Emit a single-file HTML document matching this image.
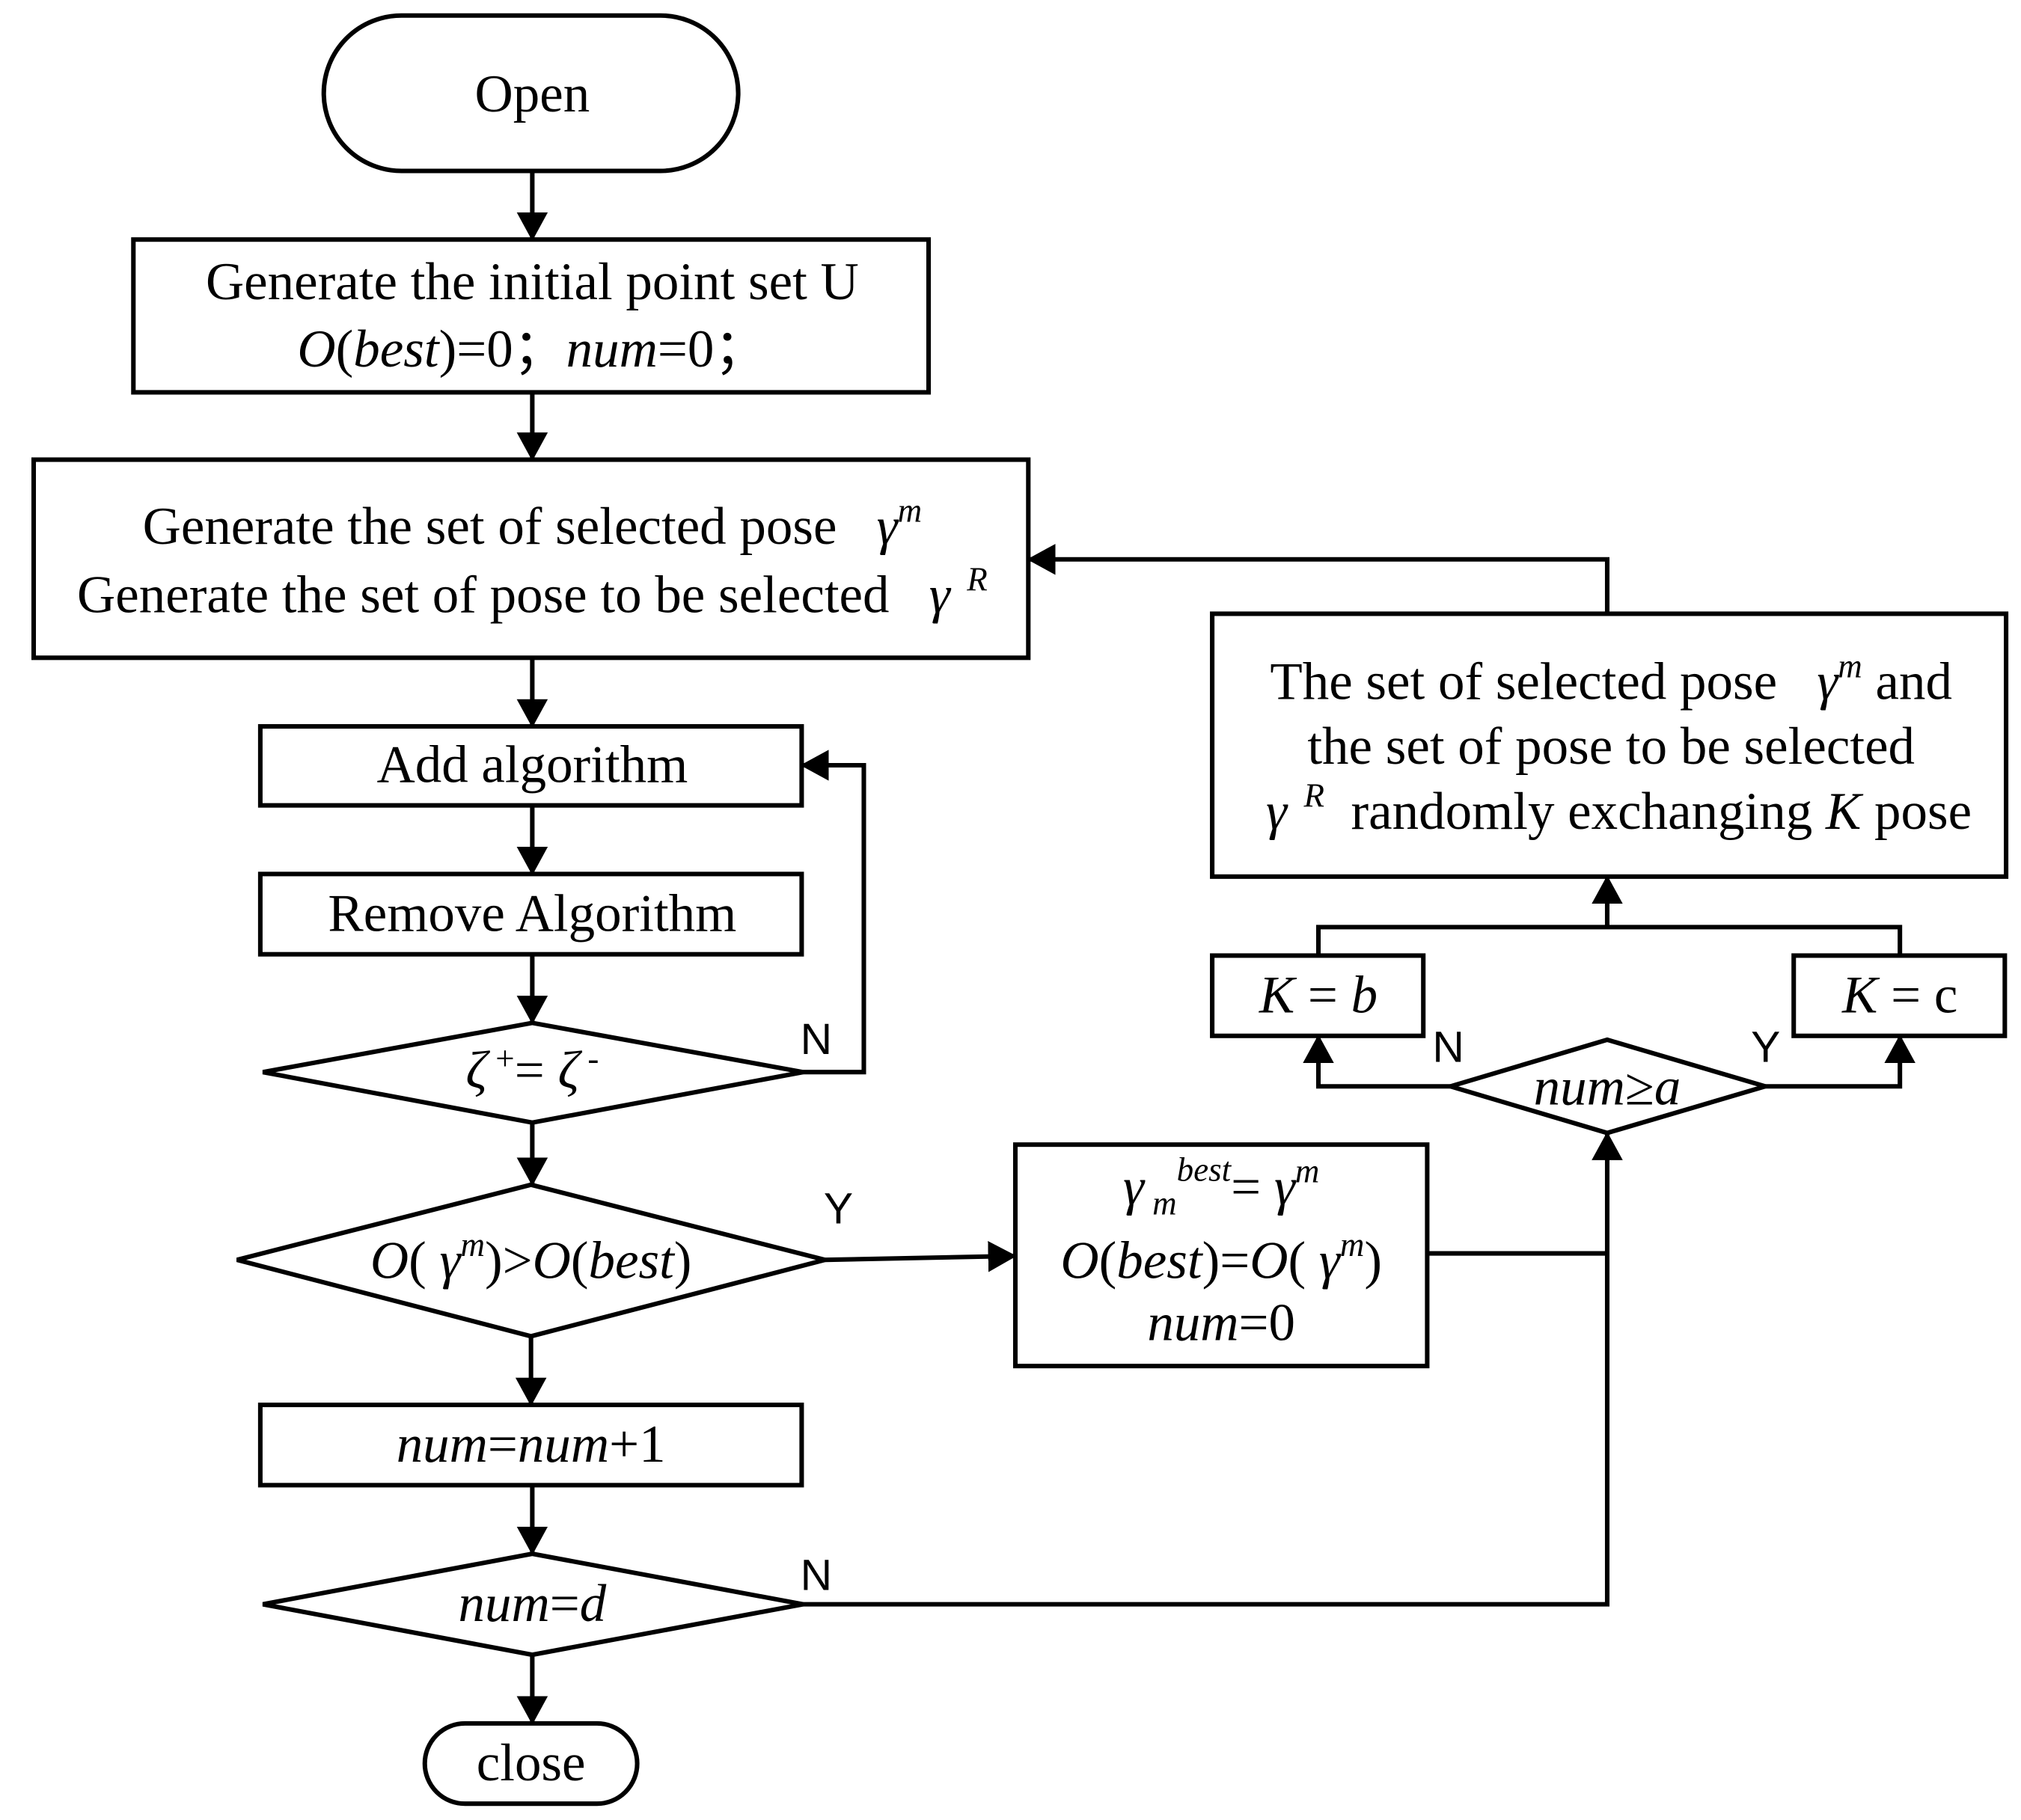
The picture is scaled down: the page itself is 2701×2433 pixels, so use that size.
<!DOCTYPE html>
<html><head><meta charset="utf-8"><style>
html,body{margin:0;padding:0;background:#fff;}
svg{display:block;}
text{font-family:"Liberation Serif",serif;font-size:41px;fill:#000;}
.s{font-family:"Liberation Sans",sans-serif;font-size:34px;}
.i{font-style:italic;}
</style></head><body>
<svg width="2701" height="2433" viewBox="0 0 1560.5 1405.6" preserveAspectRatio="none" xmlns="http://www.w3.org/2000/svg">
<defs><marker id="a" markerWidth="22" markerHeight="24" refX="21" refY="12" orient="auto" markerUnits="userSpaceOnUse"><path d="M0,0 L22,12 L0,24 z" fill="#000"/></marker></defs>
<g fill="none" stroke="#000" stroke-width="3.5">
<rect x="250" y="12" width="320" height="120" rx="60"/>
<rect x="103" y="185" width="614" height="118"/>
<rect x="26" y="355" width="768" height="153"/>
<rect x="201" y="561" width="418" height="61"/>
<rect x="201" y="675" width="418" height="62"/>
<path d="M203,828 L411,790 L620,828 L411,867 Z"/>
<path d="M183,973 L410,915 L637,973 L410,1032 Z"/>
<rect x="784" y="884" width="318" height="171"/>
<rect x="201" y="1085" width="418" height="62"/>
<path d="M203,1239 L411,1200 L620,1239 L411,1278 Z"/>
<rect x="328" y="1331" width="164" height="62" rx="31"/>
<path d="M1120,839 L1241,803 L1363,839 L1241,875 Z"/>
<rect x="936" y="738" width="163" height="62"/>
<rect x="1385" y="738" width="163" height="62"/>
<rect x="936" y="474" width="613" height="203"/>
</g>
<g fill="none" stroke="#000" stroke-width="3.5" marker-end="url(#a)">
<line x1="411" y1="132" x2="411" y2="185"/>
<line x1="411" y1="303" x2="411" y2="355"/>
<line x1="411" y1="508" x2="411" y2="561"/>
<line x1="411" y1="622" x2="411" y2="675"/>
<line x1="411" y1="737" x2="411" y2="790"/>
<polyline points="620,828 667,828 667,591 619,591"/>
<line x1="411" y1="867" x2="411" y2="915"/>
<line x1="637" y1="973" x2="784" y2="970"/>
<line x1="410" y1="1032" x2="410" y2="1085"/>
<line x1="411" y1="1147" x2="411" y2="1200"/>
<polyline points="620,1239 1241,1239 1241,875"/>
<line x1="411" y1="1278" x2="411" y2="1331"/>
<polyline points="1120,839 1018,839 1018,800"/>
<polyline points="1363,839 1467,839 1467,800"/>
<line x1="1241" y1="716" x2="1241" y2="677"/>
<polyline points="1241,474 1241,432 794,432"/>
</g>
<g fill="none" stroke="#000" stroke-width="3.5">
<line x1="1102" y1="968" x2="1241" y2="968"/>
<polyline points="1018,738 1018,716 1467,716 1467,738"/>
</g>
<g text-anchor="middle">
<text x="411" y="86">Open</text>
<text x="411" y="231">Generate the initial point set U</text>
<text x="411" y="283"><tspan class="i">O</tspan>(<tspan class="i">best</tspan>)=0；<tspan class="i">num</tspan>=0；</text>
<text x="411" y="420" xml:space="preserve">Generate the set of selected pose   <tspan class="i">γ</tspan><tspan class="i" font-size="26" dy="-17">m</tspan></text>
<text x="411" y="473" xml:space="preserve">Generate the set of pose to be selected   <tspan class="i">γ</tspan><tspan class="i" font-size="26" dy="-17">  R</tspan></text>
<text x="411" y="604">Add algorithm</text>
<text x="411" y="719">Remove Algorithm</text>
<text x="411" y="840"><tspan class="i">ζ</tspan><tspan font-size="26" dy="-14"> +</tspan><tspan dy="14">= </tspan><tspan class="i">ζ</tspan><tspan font-size="26" dy="-14"> -</tspan></text>
<text x="410" y="987"><tspan class="i">O</tspan>( <tspan class="i">γ</tspan><tspan class="i" font-size="26" dy="-17">m</tspan><tspan dy="17">)&gt;</tspan><tspan class="i">O</tspan>(<tspan class="i">best</tspan>)</text>
<text x="943" y="930"><tspan class="i">γ</tspan><tspan class="i" font-size="26" dy="8"> m</tspan><tspan class="i" font-size="26" dy="-26">best</tspan><tspan dy="18">= </tspan><tspan class="i">γ</tspan><tspan class="i" font-size="26" dy="-17">m</tspan></text>
<text x="943" y="987"><tspan class="i">O</tspan>(<tspan class="i">best</tspan>)=<tspan class="i">O</tspan>( <tspan class="i">γ</tspan><tspan class="i" font-size="26" dy="-17">m</tspan><tspan dy="17">)</tspan></text>
<text x="943" y="1035"><tspan class="i">num</tspan>=0</text>
<text x="410" y="1129"><tspan class="i">num</tspan>=<tspan class="i">num</tspan>+1</text>
<text x="411" y="1252"><tspan class="i">num</tspan>=<tspan class="i">d</tspan></text>
<text x="410" y="1375">close</text>
<text x="1241" y="853"><tspan class="i">num</tspan>≥<tspan class="i">a</tspan></text>
<text x="1018" y="782"><tspan class="i">K</tspan> = <tspan class="i">b</tspan></text>
<text x="1467" y="782"><tspan class="i">K</tspan> = c</text>
<text x="1244" y="540" xml:space="preserve">The set of selected pose   <tspan class="i">γ</tspan><tspan class="i" font-size="26" dy="-17">m</tspan><tspan dy="17"> and</tspan></text>
<text x="1244" y="590">the set of pose to be selected</text>
<text x="1250" y="640" xml:space="preserve"><tspan class="i">γ</tspan><tspan class="i" font-size="26" dy="-17">  R</tspan><tspan dy="17">  randomly exchanging </tspan><tspan class="i">K</tspan> pose</text>
</g>
<text class="s" x="618" y="814">N</text>
<text class="s" x="636" y="945">Y</text>
<text class="s" x="618" y="1228">N</text>
<text class="s" x="1106" y="820">N</text>
<text class="s" x="1352" y="820">Y</text>
</svg>
</body></html>
